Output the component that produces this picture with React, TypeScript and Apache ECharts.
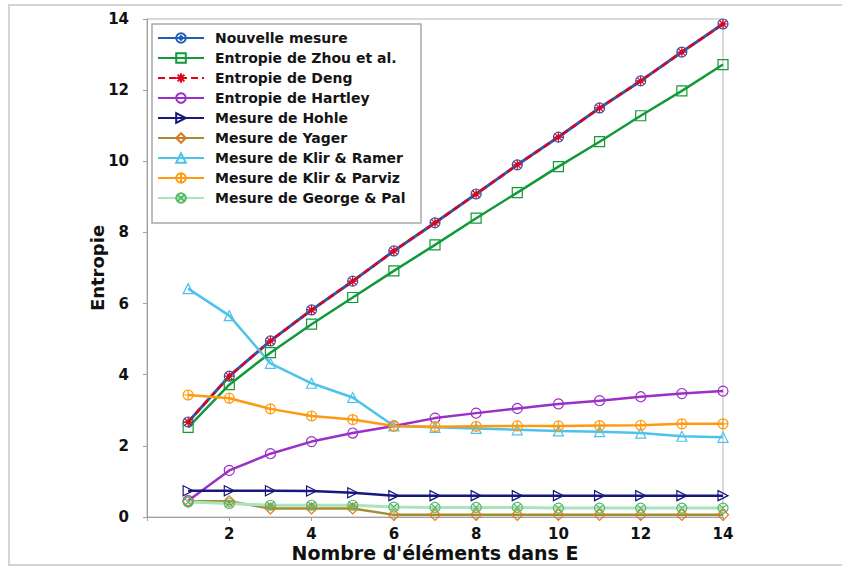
import React, { useEffect, useRef } from "react";
import * as echarts from "echarts";

const xValues = [1, 2, 3, 4, 5, 6, 7, 8, 9, 10, 11, 12, 13, 14];
const nouvelleMesure = [2.67, 3.96, 4.95, 5.82, 6.63, 7.48, 8.27, 9.08, 9.9, 10.68, 11.5, 12.26, 13.07, 13.86];
const zhou = [2.52, 3.72, 4.62, 5.42, 6.17, 6.92, 7.65, 8.4, 9.12, 9.85, 10.55, 11.28, 11.98, 12.72];
const deng = [2.67, 3.96, 4.95, 5.82, 6.63, 7.48, 8.27, 9.08, 9.9, 10.68, 11.5, 12.26, 13.07, 13.86];
const hartley = [0.46, 1.31, 1.78, 2.12, 2.36, 2.56, 2.78, 2.92, 3.05, 3.18, 3.27, 3.38, 3.47, 3.54];
const hohle = [0.74, 0.74, 0.74, 0.73, 0.68, 0.6, 0.6, 0.6, 0.6, 0.6, 0.6, 0.6, 0.6, 0.6];
const yager = [0.44, 0.44, 0.24, 0.24, 0.24, 0.06, 0.06, 0.06, 0.06, 0.06, 0.06, 0.06, 0.06, 0.06];
const klirRamer = [6.42, 5.66, 4.32, 3.76, 3.36, 2.56, 2.52, 2.49, 2.45, 2.42, 2.4, 2.36, 2.27, 2.24];
const klirParviz = [3.43, 3.34, 3.04, 2.84, 2.74, 2.56, 2.54, 2.55, 2.56, 2.56, 2.57, 2.58, 2.62, 2.62];
const georgePal = [0.42, 0.38, 0.33, 0.33, 0.33, 0.28, 0.27, 0.27, 0.27, 0.25, 0.25, 0.25, 0.25, 0.25];

const seriesNames = [
  "Nouvelle mesure",
  "Entropie de Zhou et al.",
  "Entropie de Deng",
  "Entropie de Hartley",
  "Mesure de Hohle",
  "Mesure de Yager",
  "Mesure de Klir & Ramer",
  "Mesure de Klir & Parviz",
  "Mesure de George & Pal",
];

const yTicks = [0, 2, 4, 6, 8, 10, 12, 14];
const xTicks = [2, 4, 6, 8, 10, 12, 14];

const CIRCLE = "M0,5A5,5,0,1,1,10,5A5,5,0,1,1,0,5Z";
const SYM_NOUVELLE = "path://" + CIRCLE + "M5,3L7,5L5,7L3,5Z";
const SYM_DENG = "path://M5,0L5,10M0,5L10,5M1.5,1.5L8.5,8.5M8.5,1.5L1.5,8.5";
const SYM_HOHLE = "path://M0,0L10,5L0,10Z";
const SYM_PARVIZ = "path://" + CIRCLE + "M5,0L5,10M0,5L10,5";
const SYM_GEORGE = "path://" + CIRCLE + "M1.5,1.5L8.5,8.5M8.5,1.5L1.5,8.5";

const FONT = "DejaVu Sans";

function mk(
  name: string,
  values: number[],
  lineColor: string,
  markerColor: string,
  symbol: string,
  opts: any = {}
) {
  return {
    name,
    type: "line",
    data: xValues.map((x, i) => [x, values[i]]),
    symbol,
    symbolSize: opts.symbolSize || 10,
    showAllSymbol: true,
    lineStyle: { color: lineColor, width: opts.width || 2.5, type: opts.dash || "solid" },
    itemStyle: { color: "transparent", borderColor: markerColor, borderWidth: 1.2 },
    emphasis: { disabled: true },
    silent: true,
    z: opts.z || 2,
  };
}

export default function App() {
  const ref = useRef<HTMLDivElement>(null);
  useEffect(() => {
    if (!ref.current) return;
    const chart = echarts.init(ref.current, null, { renderer: "svg" });
    const option: any = {
      animation: false,
      backgroundColor: "#ffffff",
      graphic: [
        {
          type: "rect",
          z: -10,
          shape: { x: 9, y: 5, width: 860, height: 560 },
          style: { fill: "none", stroke: "#d4d4d4", lineWidth: 2 },
          silent: true,
        },
        {
          type: "rect",
          z: 3,
          shape: { x: 152, y: 24, width: 269, height: 199 },
          style: { fill: "#ffffff", stroke: "#a8a8a8", lineWidth: 1.5 },
          silent: true,
        },
      ],
      grid: {
        left: 147,
        right: 119,
        top: 19,
        bottom: 49,
        show: true,
        borderColor: "#b4b4b4",
        borderWidth: 1,
        backgroundColor: "transparent",
      },
      legend: {
        orient: "vertical",
        left: 152,
        top: 24,
        z: 5,
        padding: [6, 5, 5, 5],
        itemWidth: 46,
        itemHeight: 12,
        itemGap: 4,
        selectedMode: false,
        data: seriesNames,
        textStyle: {
          fontFamily: FONT,
          fontWeight: "bold",
          fontSize: 14,
          color: "#151515",
          lineHeight: 16,
          padding: [0, 0, 0, 6],
        },
      },
      xAxis: {
        type: "value",
        min: 0,
        max: 14,
        interval: 2,
        name: "Nombre d'éléments dans E",
        nameLocation: "middle",
        nameGap: 26,
        nameMoveOverlap: false,
        nameTextStyle: { fontFamily: FONT, fontWeight: "bold", fontSize: 19, color: "#111" },
        axisLine: { show: true, lineStyle: { color: "#a0a0a0", width: 1 } },
        axisTick: { show: true, inside: false, length: 4, lineStyle: { color: "#a0a0a0" } },
        splitLine: { show: false },
        axisLabel: {
          margin: 9,
          fontFamily: FONT,
          fontWeight: "bold",
          fontSize: 15,
          color: "#111",
          formatter: (v: number) => (xTicks.indexOf(v) >= 0 ? String(v) : ""),
        },
      },
      yAxis: {
        type: "value",
        min: 0,
        max: 14,
        interval: 2,
        name: "Entropie",
        nameLocation: "middle",
        nameGap: 41,
        nameMoveOverlap: false,
        nameRotate: 90,
        nameTextStyle: { fontFamily: FONT, fontWeight: "bold", fontSize: 18, color: "#111" },
        axisLine: { show: true, lineStyle: { color: "#a0a0a0", width: 1 } },
        axisTick: { show: true, inside: false, length: 4, lineStyle: { color: "#a0a0a0" } },
        splitLine: { show: false },
        axisLabel: {
          margin: 18,
          fontFamily: FONT,
          fontWeight: "bold",
          fontSize: 15,
          color: "#111",
          formatter: (v: number) => (yTicks.indexOf(v) >= 0 ? String(v) : ""),
        },
      },
      series: [
        mk(seriesNames[0], nouvelleMesure, "#1f5fb4", "#1f5fb4", SYM_NOUVELLE, { width: 3 }),
        mk(seriesNames[1], zhou, "#109a38", "#109a38", "rect", { symbolSize: 10 }),
        mk(seriesNames[2], deng, "#e3001b", "#e3001b", SYM_DENG, { dash: [7, 4], width: 2.5 }),
        mk(seriesNames[3], hartley, "#9b30c8", "#9b30c8", "circle"),
        mk(seriesNames[4], hohle, "#17177e", "#17177e", SYM_HOHLE),
        mk(seriesNames[5], yager, "#a48f2e", "#e07820", "diamond", { symbolSize: 11 }),
        mk(seriesNames[6], klirRamer, "#4cc3ea", "#4cc3ea", "triangle"),
        mk(seriesNames[7], klirParviz, "#ff9a10", "#ff9a10", SYM_PARVIZ),
        mk(seriesNames[8], georgePal, "#a8e4bc", "#55b865", SYM_GEORGE, { width: 3 }),
      ],
    };
    chart.setOption(option);
    return () => chart.dispose();
  }, []);
  return (
    <div
      ref={ref}
      style={{ position: "fixed", left: 0, top: 0, width: 842, height: 567, background: "#fff" }}
    />
  );
}
